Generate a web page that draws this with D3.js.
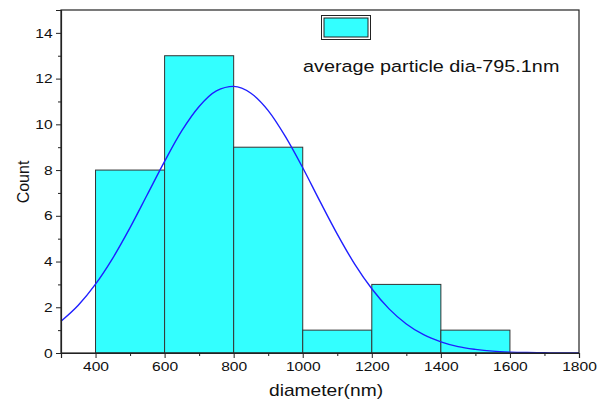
<!DOCTYPE html>
<html>
<head>
<meta charset="utf-8">
<script src="https://cdn.jsdelivr.net/npm/d3@7"></script>
<style>
  html, body { margin: 0; padding: 0; background: #fff; }
  svg { display: block; font-family: "Liberation Sans", Arial, sans-serif; }
</style>
</head>
<body>
<svg id="chart" width="606" height="403"></svg>
<script>
// histogram bins (nm) and counts
const binStarts = [400, 600, 800, 1000, 1200, 1400];
const binWidth = 200;
const counts = [8, 13, 9, 1, 3, 1];

// fitted curve, every 50 nm
const fitX = [300, 350, 400, 450, 500, 550, 600, 650, 700, 750, 800, 850, 900, 950, 1000,
  1050, 1100, 1150, 1200, 1250, 1300, 1350, 1400, 1450, 1500, 1550, 1600, 1650, 1700, 1750, 1800];
const fitY = [1.39, 2.09, 3.01, 4.15, 5.48, 6.93, 8.38, 9.72, 10.78, 11.46, 11.66, 11.36, 10.6, 9.46, 8.1,
  6.63, 5.2, 3.9, 2.81, 1.93, 1.27, 0.8, 0.49, 0.28, 0.16, 0.08, 0.04, 0.02, 0.01, 0.0, 0.0];

const xTicks = [400, 600, 800, 1000, 1200, 1400, 1600, 1800];
const yTicks = [0, 2, 4, 6, 8, 10, 12, 14];
const legendText = 'average particle dia-795.1nm';

const svg = d3.select('#chart');
const m = { left: 61, right: 27, top: 10, bottom: 50 };
const W = 606, H = 403;
const sx = 1.2; // text in the picture is a bit wide

const x = d3.scaleLinear().domain([300, 1800]).range([m.left, W - m.right]);
const y = d3.scaleLinear().domain([0, 15]).range([H - m.bottom, m.top]);

// bars
svg.append('g').selectAll('rect')
  .data(counts)
  .join('rect')
  .attr('x', (d, i) => x(binStarts[i]))
  .attr('y', d => y(d))
  .attr('width', (d, i) => x(binStarts[i] + binWidth) - x(binStarts[i]))
  .attr('height', d => y(0) - y(d))
  .attr('fill', '#33ffff')
  .attr('stroke', '#333')
  .attr('stroke-width', 1);

// fit curve
const line = d3.line()
  .x((d, i) => x(fitX[i]))
  .y(d => y(d))
  .curve(d3.curveMonotoneX);
svg.append('path')
  .datum(fitY)
  .attr('d', line)
  .attr('fill', 'none')
  .attr('stroke', '#1f1fff')
  .attr('stroke-width', 1.4);

// frame
svg.append('rect')
  .attr('x', m.left).attr('y', m.top)
  .attr('width', W - m.right - m.left).attr('height', H - m.bottom - m.top)
  .attr('fill', 'none').attr('stroke', '#222').attr('stroke-width', 1.2);

// axes
svg.append('g')
  .attr('transform', `translate(0,${H - m.bottom})`)
  .call(d3.axisBottom(x).tickValues(xTicks).tickSize(5).tickPadding(4).tickFormat(d3.format('d')))
  .call(g => g.selectAll('.tick text').attr('transform', `scale(${sx},1)`));
svg.append('g')
  .attr('transform', `translate(0,${H - m.bottom})`)
  .call(d3.axisBottom(x).tickValues(d3.range(300, 1800, 200)).tickSize(3).tickFormat(''))
  .call(g => g.select('.domain').remove());

svg.append('g')
  .attr('transform', `translate(${m.left},0)`)
  .call(d3.axisLeft(y).tickValues(yTicks).tickSize(5).tickPadding(2))
  .call(g => g.selectAll('.tick text').attr('transform', `scale(${sx},1)`));
svg.append('g')
  .attr('transform', `translate(${m.left},0)`)
  .call(d3.axisLeft(y).tickValues([1, 3, 5, 7, 9, 11, 13]).tickSize(3).tickFormat(''))
  .call(g => g.select('.domain').remove());

svg.selectAll('.domain').attr('stroke', '#222').attr('stroke-width', 1.2);
svg.selectAll('.tick line').attr('stroke', '#222');
svg.selectAll('.tick text')
  .attr('fill', '#111')
  .style('font-size', '13px')
  .style('font-family', '"Liberation Sans", Arial, sans-serif');

// axis titles
svg.append('text')
  .attr('transform', `translate(326,396) scale(${sx},1)`)
  .attr('text-anchor', 'middle')
  .style('font-size', '16px').attr('fill', '#111')
  .text('diameter(nm)');
svg.append('text')
  .attr('transform', `translate(29,182) scale(1.05,1) rotate(-90)`)
  .attr('text-anchor', 'middle')
  .style('font-size', '16px').attr('fill', '#111')
  .text('Count');

// legend
const lg = svg.append('g');
lg.append('rect')
  .attr('x', 321.5).attr('y', 15.5).attr('width', 49).attr('height', 24)
  .attr('fill', '#fff').attr('stroke', '#222').attr('stroke-width', 1);
lg.append('rect')
  .attr('x', 324).attr('y', 18).attr('width', 44).attr('height', 19)
  .attr('fill', '#33ffff').attr('stroke', '#222').attr('stroke-width', 1);
lg.append('text')
  .attr('transform', `translate(303,72) scale(${sx},1)`)
  .style('font-size', '16.5px').attr('fill', '#111')
  .text(legendText);
</script>
</body>
</html>
